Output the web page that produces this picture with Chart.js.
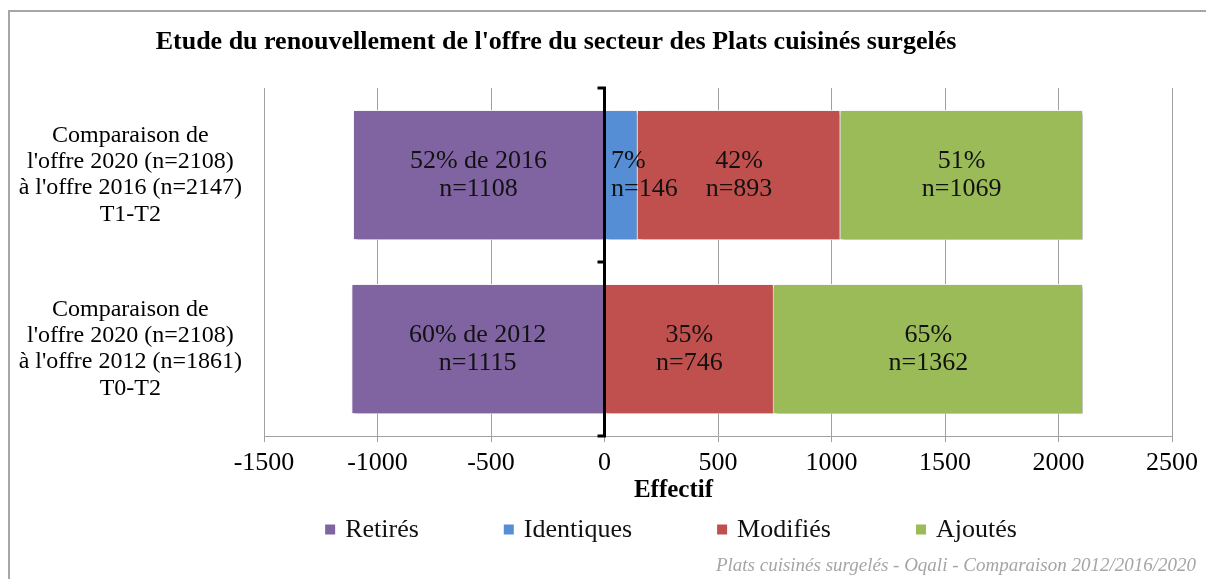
<!DOCTYPE html>
<html>
<head>
<meta charset="utf-8">
<script src="https://cdn.jsdelivr.net/npm/chart.js@4.4.1/dist/chart.umd.min.js"></script>
<style>
  html, body { margin: 0; padding: 0; background: #fff; }
  #wrap { position: relative; width: 1206px; height: 579px; }
</style>
</head>
<body>
<div id="wrap"><canvas id="c" width="1206" height="579"></canvas></div>
<script>
// ---- data ----
const titleText = "Etude du renouvellement de l'offre du secteur des Plats cuisinés surgelés";
const axisTitle = "Effectif";
const footerText = "Plats cuisinés surgelés - Oqali - Comparaison 2012/2016/2020";
const categories = [
  ["Comparaison de", "l'offre 2020 (n=2108)", "à l'offre 2016 (n=2147)", "T1-T2"],
  ["Comparaison de", "l'offre 2020 (n=2108)", "à l'offre 2012 (n=1861)", "T0-T2"]
];
const seriesNames = ["Retirés", "Identiques", "Modifiés", "Ajoutés"];
const retires = [-1108, -1115];
const identiques = [146, null];
const modifies = [893, 746];
const ajoutes = [1069, 1362];
const retiresPct = ["52% de 2016", "60% de 2012"];
const identiquesPct = ["7%", ""];
const modifiesPct = ["42%", "35%"];
const ajoutesPct = ["51%", "65%"];
const xMin = -1500, xMax = 2500, xStep = 500;

const colors = ["#8064A2", "#558ED5", "#C0504D", "#9BBB59"];
const pctLabels = [retiresPct, identiquesPct, modifiesPct, ajoutesPct];
const SERIF = "'Liberation Serif', 'Times New Roman', serif";

const TITLE_CX = 556;      // horizontal centre of the chart title
const AXIS_TITLE_CX = 673.5; // horizontal centre of the x-axis title
const LEGEND_CX = 671;     // horizontal centre of the legend row

const frameAndDecor = {
  id: 'frameAndDecor',
  beforeDraw(chart) {
    const ctx = chart.ctx;
    ctx.save();
    ctx.strokeStyle = '#A6A6A6';
    ctx.lineWidth = 2;
    ctx.strokeRect(9, 11, 1240, 620);
    ctx.restore();
  },
  afterLayout(chart) {
    const t = chart.titleBlock;
    if (t) {
      const dx = TITLE_CX - (t.left + t.right) / 2;
      t.left += dx; t.right += dx;
    }
    const xs = chart.scales.x;
    if (xs && !xs._titlePatched) {
      const orig = xs.drawTitle;
      xs.drawTitle = function () {
        const l = this.left, r = this.right;
        const dx = AXIS_TITLE_CX - (l + r) / 2;
        this.left = l + dx; this.right = r + dx;
        orig.call(this);
        this.left = l; this.right = r;
      };
      xs._titlePatched = true;
    }
  },
  beforeDatasetsDraw(chart) {
    const ctx = chart.ctx;
    ctx.save();
    ctx.shadowColor = 'rgba(0,0,0,0.30)';
    ctx.shadowBlur = 4;
    ctx.shadowOffsetX = 2;
    ctx.shadowOffsetY = 2;
  },
  afterDatasetsDraw(chart) {
    const ctx = chart.ctx;
    ctx.restore();
    const xs = chart.scales.x, ys = chart.scales.y, area = chart.chartArea;
    // zero axis line with category tick marks
    const x0 = xs.getPixelForValue(0);
    ctx.save();
    ctx.strokeStyle = '#000';
    ctx.lineWidth = 3;
    ctx.beginPath();
    ctx.moveTo(x0, area.top);
    ctx.lineTo(x0, area.bottom);
    const n = categories.length;
    for (let i = 0; i <= n; i++) {
      const yb = ys.getPixelForValue(i - 0.5);
      ctx.moveTo(x0 - 7, yb);
      ctx.lineTo(x0 + 1.5, yb);
    }
    ctx.stroke();
    ctx.restore();
    // data labels
    ctx.save();
    ctx.font = '26px ' + SERIF;
    ctx.fillStyle = '#111';
    ctx.textBaseline = 'middle';
    chart.data.datasets.forEach((ds, di) => {
      const meta = chart.getDatasetMeta(di);
      meta.data.forEach((el, j) => {
        const v = ds.data[j];
        if (v === null || v === undefined) return;
        const p = el.getProps(['x', 'base', 'y'], true);
        const l = Math.min(p.x, p.base), r = Math.max(p.x, p.base);
        const lines = [pctLabels[di][j], 'n=' + Math.abs(v)];
        const w = Math.max(...lines.map(s => ctx.measureText(s).width));
        let tx, align;
        if (w > r - l - 4) { tx = l + 6; align = 'left'; }
        else { tx = (l + r) / 2; align = 'center'; }
        ctx.textAlign = align;
        ctx.fillText(lines[0], tx, p.y - 14);
        ctx.fillText(lines[1], tx, p.y + 14);
      });
    });
    ctx.restore();
  },
  afterDraw(chart) {
    const ctx = chart.ctx;
    // legend
    ctx.save();
    ctx.font = '26px ' + SERIF;
    ctx.textBaseline = 'middle';
    const box = 10, gapText = 10, gapItem = 85, ly = 529.5;
    const items = chart.data.datasets.map(d => ({ label: d.label, color: d.backgroundColor, w: ctx.measureText(d.label).width }));
    const total = items.reduce((s, it) => s + box + gapText + it.w, 0) + gapItem * (items.length - 1);
    let x = LEGEND_CX - total / 2;
    items.forEach(it => {
      ctx.fillStyle = it.color;
      ctx.fillRect(x, ly - box / 2, box, box);
      ctx.fillStyle = '#111';
      ctx.textAlign = 'left';
      ctx.fillText(it.label, x + box + gapText, ly + 1);
      x += box + gapText + it.w + gapItem;
    });
    // footer
    ctx.font = 'italic 19px ' + SERIF;
    ctx.fillStyle = '#A5A5A5';
    ctx.textAlign = 'right';
    ctx.fillText(footerText, 1196, 566);
    ctx.restore();
  }
};

const datasets = [retires, identiques, modifies, ajoutes].map((d, i) => ({
  label: seriesNames[i],
  data: d,
  backgroundColor: colors[i],
  borderColor: 'rgba(255,255,255,0.85)',
  borderWidth: 1,
  barPercentage: 0.747,
  categoryPercentage: 1.0
}));

new Chart(document.getElementById('c'), {
  type: 'bar',
  data: { labels: categories, datasets },
  options: {
    indexAxis: 'y',
    responsive: false,
    animation: false,
    devicePixelRatio: 1,
    layout: { padding: { left: 10, right: 34, top: 0, bottom: 76 } },
    plugins: {
      legend: { display: false },
      tooltip: { enabled: false },
      title: {
        display: true,
        text: titleText,
        color: '#000',
        font: { family: SERIF, size: 26, weight: 'bold', lineHeight: 1.2 },
        padding: { top: 26.4, bottom: 30.4 }
      }
    },
    scales: {
      x: {
        stacked: true,
        min: xMin, max: xMax,
        ticks: {
          stepSize: xStep,
          color: '#000',
          font: { family: SERIF, size: 26, lineHeight: 1 },
          padding: 8,
          maxRotation: 0,
          callback: v => String(v)
        },
        grid: { color: '#A0A0A0', lineWidth: 1, drawTicks: true, tickLength: 6, tickColor: '#A0A0A0' },
        border: { display: true, color: '#A0A0A0', width: 1 },
        title: {
          display: true,
          text: axisTitle,
          color: '#000',
          font: { family: SERIF, size: 25, weight: 'bold', lineHeight: 1 },
          padding: { top: 0, bottom: 0 }
        },
        afterFit(scale) { scale.height = 67; }
      },
      y: {
        stacked: true,
        grid: { display: false, drawTicks: false },
        border: { display: false },
        ticks: {
          color: '#000',
          font: { family: SERIF, size: 24, lineHeight: 1.1 },
          crossAlign: 'center',
          padding: 22
        },
        afterFit(scale) { scale.width = 254; }
      }
    }
  },
  plugins: [frameAndDecor]
});
</script>
</body>
</html>
